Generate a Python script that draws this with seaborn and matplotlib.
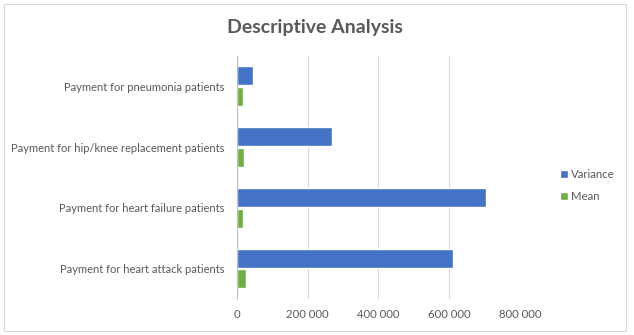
import matplotlib
matplotlib.use("Agg")
import matplotlib.pyplot as plt
import matplotlib.ticker as mticker
from matplotlib.patches import Rectangle
import seaborn as sns
import pandas as pd

categories = [
    "Payment for pneumonia patients",
    "Payment for hip/knee replacement patients",
    "Payment for heart failure patients",
    "Payment for heart attack patients",
]
variance = [45000, 268000, 704000, 612000]
mean = [17000, 20500, 17000, 26000]
series_names = ["Variance", "Mean"]
x_ticks = [0, 200000, 400000, 600000, 800000]

df = pd.DataFrame({
    "category": categories * 2,
    "value": variance + mean,
    "series": [series_names[0]] * len(categories) + [series_names[1]] * len(categories),
})

sns.set_theme(style="white")
plt.rcParams["font.family"] = ["Lato", "DejaVu Sans"]

text_color = "#595959"
palette = {"Variance": "#4472C4", "Mean": "#70AD47"}

fig = plt.figure(figsize=(6.34, 3.35), dpi=100)
ax = fig.add_axes([0.3738, 0.1075, 0.4464, 0.7255])

sns.barplot(data=df, y="category", x="value", hue="series", order=categories,
            hue_order=series_names, palette=palette, orient="h",
            width=0.68, gap=0.08, saturation=1, ax=ax, legend=True)

ax.set_xlim(0, 800000)
ax.set_xticks(x_ticks)
ax.xaxis.set_major_formatter(mticker.FuncFormatter(
    lambda v, p: f"{int(v):,}".replace(",", " ")))
ax.grid(axis="x", color="#D9D9D9", linewidth=0.8)
ax.set_axisbelow(True)
for side in ["top", "right", "bottom"]:
    ax.spines[side].set_visible(False)
ax.spines["left"].set_color("#BFBFBF")
ax.spines["left"].set_linewidth(0.8)
ax.set_xlabel("")
ax.set_ylabel("")
ax.tick_params(axis="x", length=0, pad=7, labelsize=8.2, labelcolor=text_color)
ax.tick_params(axis="y", length=0, pad=9, labelsize=8.0, labelcolor=text_color)

leg = ax.legend(loc="center left", bbox_to_anchor=(1.105, 0.467), frameon=False,
                handlelength=0.7, handleheight=0.7, handletextpad=0.3,
                labelspacing=1.05, fontsize=8.2)
for t in leg.get_texts():
    t.set_color(text_color)

fig.text(0.497, 0.918, "Descriptive Analysis", ha="center", va="center",
         fontsize=14, fontweight="bold", color=text_color)

fig.patches.append(Rectangle((0.0063, 0.012), 0.981, 0.976, transform=fig.transFigure,
                             fill=False, edgecolor="#D9D9D9", linewidth=0.8))

fig.savefig("out.png", dpi=100)
